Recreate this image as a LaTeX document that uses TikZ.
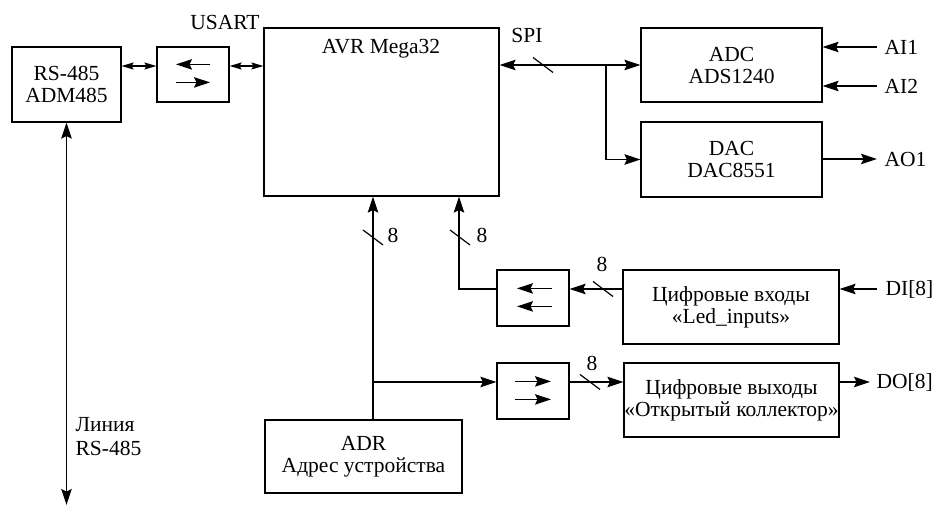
\documentclass[tikz,border=0pt]{standalone}
\usepackage{fontspec}
\setmainfont{Liberation Serif}
\usetikzlibrary{arrows.meta,calc}
\begin{document}
\begin{tikzpicture}[x=1pt,y=-1pt,line width=1.2pt,
  txt/.style={font=\fontsize{21.5}{22}\selectfont},
  box/.style={draw,txt,align=center,inner sep=0pt},
  lbl/.style={txt,inner sep=0pt},
  arr/.style={-{Stealth[length=16pt,width=10.5pt,inset=2.5pt]}},
  dblarr/.style={{Stealth[length=16pt,width=10.5pt,inset=2.5pt]}-{Stealth[length=16pt,width=10.5pt,inset=2.5pt]}},
  smallarr/.style={{Stealth[length=12pt,width=7pt,inset=2pt]}-{Stealth[length=12pt,width=7pt,inset=2pt]}},
  bus/.pic={\draw (-10,-7.5) -- (10,7.5);}]
\useasboundingbox (0,0) rectangle (943,506);

% boxes
\node[box,minimum width=109pt,minimum height=75pt] (rs) at (66.5,84.5) {RS-485\\ADM485};
\node[box,minimum width=72pt,minimum height=55pt] (iso1) at (193,74.5) {};
\node[box,minimum width=235pt,minimum height=168pt] (avr) at (381.5,112) {};
\node[lbl,anchor=base] (avrlbl) at (381,53) {AVR Mega32};
\node[box,minimum width=181pt,minimum height=74pt] (adc) at (731.5,65) {ADC\\ADS1240};
\node[box,minimum width=181pt,minimum height=75pt] (dac) at (731.5,159.5) {DAC\\DAC8551};
\node[box,minimum width=72pt,minimum height=56pt] (iso2) at (533,298) {};
\node[box,minimum width=216pt,minimum height=74pt] (di) at (731,307) {Цифровые входы\\«Led\_inputs»};
\node[box,minimum width=72pt,minimum height=56pt] (iso3) at (533,391) {};
\node[box,minimum width=215pt,minimum height=74pt] (do) at (731.5,400) {Цифровые выходы\\«Открытый коллектор»};
\node[box,minimum width=197pt,minimum height=73pt] (adr) at (363.5,456.5) {ADR\\Адрес устройства};

% labels
\node[lbl,anchor=base] (usart) at (225,29) {USART};
\node[lbl,anchor=base] (spi) at (527,42) {SPI};
\node[lbl,anchor=west] (ai1l) at (884,47) {AI1};
\node[lbl,anchor=west] (ai2l) at (884,86) {AI2};
\node[lbl,anchor=west] (ao1l) at (884,159) {AO1};
\node[lbl,anchor=west] (dil) at (885,289) {DI[8]};
\node[lbl,anchor=west] (dol) at (876,382) {DO[8]};
\node[lbl,anchor=north west,align=left,font=\fontsize{21.5}{24}\selectfont] (line) at (75,417) {Линия\\RS-485};
\node[lbl,anchor=base] (n1) at (393,242) {8};
\node[lbl,anchor=base] (n2) at (482,242) {8};
\node[lbl,anchor=base] (n3) at (602,271) {8};
\node[lbl,anchor=base] (n4) at (592,370) {8};

% free ends and junctions
\coordinate (linebot) at (66.5,505);
\coordinate (ai1) at (877,47);
\coordinate (ai2) at (877,86);
\coordinate (ao1) at (877,159);
\coordinate (din) at (877,289);
\coordinate (dout) at (870,382);
\coordinate (spij) at (606,65);
\coordinate (adrj) at (373,382);

% RS-485 side
\draw[smallarr] (rs.east |- 0,66) -- (iso1.west |- 0,66);
\draw[smallarr] (iso1.east |- 0,66) -- (avr.west |- 0,66);
\draw[dblarr] (rs.south) -- (linebot);
\draw[arr] ($(iso1.north)+(17,18)$) -- ++(-34,0);
\draw[arr] ($(iso1.north)+(-17,36)$) -- ++(34,0);

% SPI
\draw[dblarr] (avr.east |- adc.west) -- (adc.west);
\pic at (543,65) {bus};
\draw[arr] (spij) |- (dac.west);
\draw[arr] (ai1) -- (adc.east |- ai1);
\draw[arr] (ai2) -- (adc.east |- ai2);
\draw[arr] (dac.east |- ao1) -- (ao1);

% digital inputs
\draw[arr] (din) -- (di.east |- din);
\draw[arr] (di.west |- din) -- (iso2.east |- din);
\pic at (603,289) {bus};
\draw[arr] ($(iso2.north)+(19,19)$) -- ++(-35,0);
\draw[arr] ($(iso2.north)+(19,37)$) -- ++(-35,0);
\draw[arr] (iso2.west |- din) -| (avr.south -| 459,0);
\pic at (460,237.5) {bus};

% address and digital outputs
\draw[arr] (adr.north -| adrj) -- (avr.south -| adrj);
\pic at (373,237.5) {bus};
\draw[arr] (adrj) -- (iso3.west |- adrj);
\draw[arr] ($(iso3.north)+(-18,19)$) -- ++(36,0);
\draw[arr] ($(iso3.north)+(-18,37)$) -- ++(36,0);
\draw[arr] (iso3.east |- dout) -- (do.west |- dout);
\pic at (590,382) {bus};
\draw[arr] (do.east |- dout) -- (dout);
\end{tikzpicture}
\end{document}
